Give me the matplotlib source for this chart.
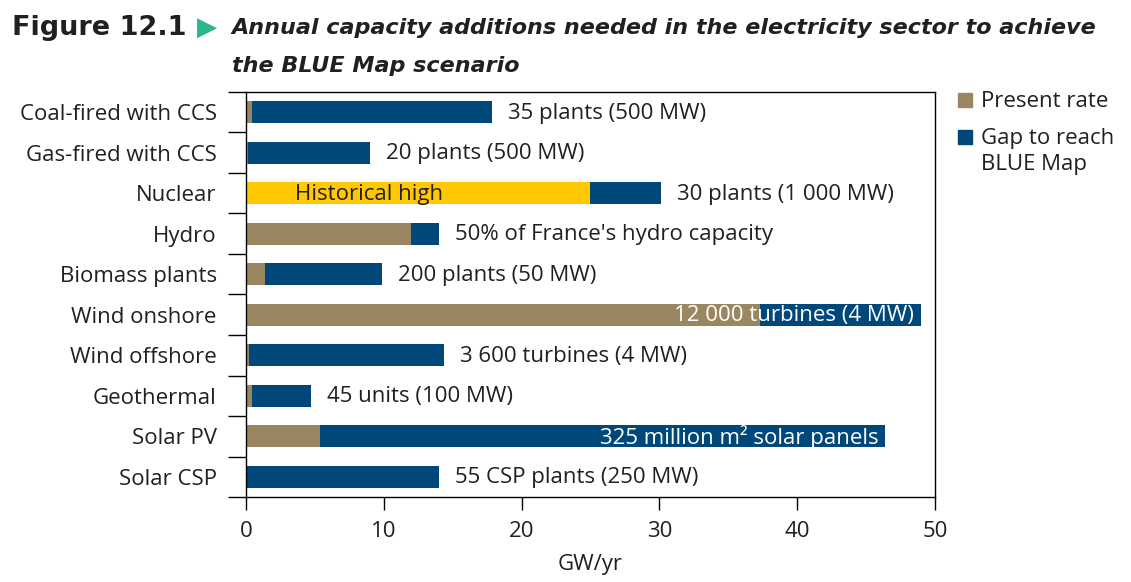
import matplotlib.pyplot as plt
from matplotlib.patches import Rectangle
import numpy as np

plt.rcParams['font.family'] = ['Open Sans', 'DejaVu Sans']

# data (GW/yr)
categories = ["Coal-fired with CCS", "Gas-fired with CCS", "Nuclear", "Hydro",
              "Biomass plants", "Wind onshore", "Wind offshore", "Geothermal",
              "Solar PV", "Solar CSP"]
present = [0.45, 0.15, 0.0, 12.0, 1.4, 37.3, 0.2, 0.45, 5.4, 0.1]
historical_high = [0, 0, 25.0, 0, 0, 0, 0, 0, 0, 0]
gap = [17.4, 8.85, 5.1, 2.0, 8.5, 11.7, 14.15, 4.25, 41.0, 13.9]
notes = ["35 plants (500 MW)", "20 plants (500 MW)", "30 plants (1 000 MW)",
         "50% of France's hydro capacity", "200 plants (50 MW)",
         "12 000 turbines (4 MW)", "3 600 turbines (4 MW)", "45 units (100 MW)",
         "325 million m\u00b2 solar panels", "55 CSP plants (250 MW)"]
inside = [False, False, False, False, False, True, False, False, True, False]

tan = "#9A8762"
navy = "#00487A"
yellow = "#FFC800"
txt = "#231F20"
fs = 16

fig = plt.figure(figsize=(11.31, 5.82), dpi=100)
ax = fig.add_axes([0.2175, 0.146, 0.6092, 0.696])

y = np.arange(len(categories))
base = np.array(present) + np.array(historical_high)
ax.barh(y, present, height=0.54, color=tan)
ax.barh(y, historical_high, height=0.54, color=yellow)
ax.barh(y, gap, left=base, height=0.54, color=navy)

for i in range(len(categories)):
    end = base[i] + gap[i]
    if inside[i]:
        ax.text(end - 0.5, y[i] + 0.03, notes[i], ha="right", va="center",
                color="white", fontsize=fs)
    else:
        ax.text(end + 1.15, y[i] + 0.03, notes[i], ha="left", va="center",
                color=txt, fontsize=fs)
ax.text(8.96, 2.03, "Historical high", ha="center", va="center", color=txt, fontsize=fs)

ax.set_xlim(0, 50)
ax.set_ylim(9.5, -0.5)
ax.set_xticks(np.arange(0, 51, 10))
ax.set_yticks(y)
ax.set_yticklabels(categories)
ax.set_yticks(np.arange(-0.5, 10, 1), minor=True)
ax.tick_params(axis="y", which="major", length=0, pad=21, labelsize=fs, labelcolor=txt)
ax.tick_params(axis="y", which="minor", length=13, width=1)
ax.tick_params(axis="x", length=9, width=1, pad=8, labelsize=fs, labelcolor=txt)
ax.set_xlabel("GW/yr", fontsize=fs, color=txt, labelpad=9)
for s in ax.spines.values():
    s.set_linewidth(1)

# legend drawn by hand so the square sits on the first line
W, H = 1131, 582
leg_items = [(tan, "Present rate", 100), (navy, "Gap to reach\nBLUE Map", 137)]
for col, lab, py in leg_items:
    fig.patches.append(Rectangle((958 / W, 1 - (py + 7) / H), 14 / W, 14 / H,
                                 transform=fig.transFigure, color=col))
    fig.text(981 / W, 1 - (py - 9) / H, lab, fontsize=fs, color=txt,
             va="top", linespacing=1.3)

# title
fig.text(0.011, 0.952, "Figure 12.1", fontsize=19.5, fontweight="bold",
         family="DejaVu Sans", color=txt, va="center")
fig.text(0.1745, 0.952, "\u25B6", fontsize=19, color="#2BB58F", va="center",
         family="DejaVu Sans")
fig.text(0.205, 0.952, "Annual capacity additions needed in the electricity sector to achieve",
         fontsize=16, fontweight="bold", style="italic", color=txt, va="center",
         family="DejaVu Sans")
fig.text(0.205, 0.886, "the BLUE Map scenario",
         fontsize=16, fontweight="bold", style="italic", color=txt, va="center",
         family="DejaVu Sans")

plt.savefig("out.png", dpi=100)
